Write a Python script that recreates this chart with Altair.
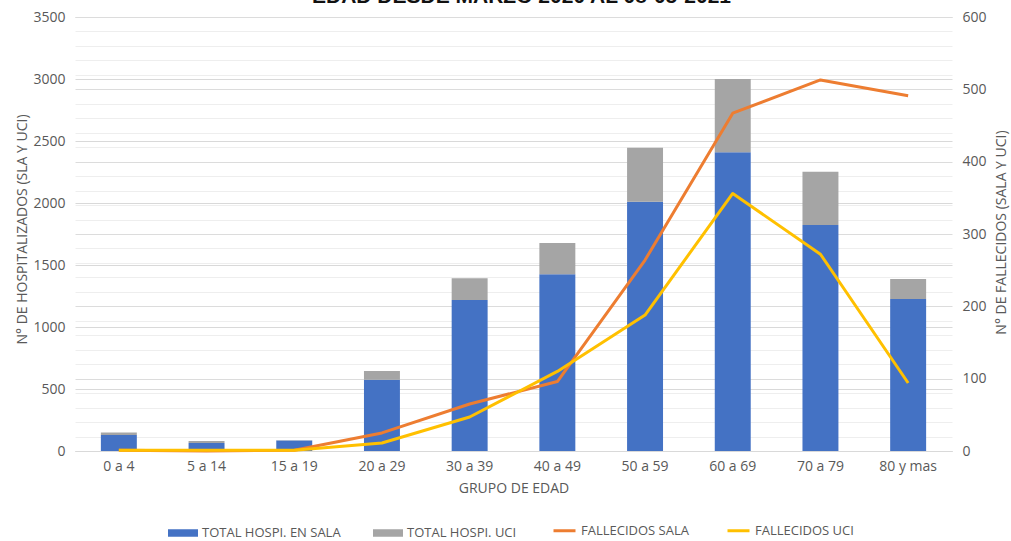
import altair as alt
import pandas as pd

grupos = ["0 a 4", "5 a 14", "15 a 19", "20 a 29", "30 a 39", "40 a 49",
          "50 a 59", "60 a 69", "70 a 79", "80 y mas"]
hosp_sala = [130, 65, 84, 575, 1218, 1425, 2010, 2410, 1823, 1226]
hosp_uci = [20, 16, 3, 70, 175, 252, 436, 590, 430, 161]
fall_sala = [1, 0, 1, 25, 65, 96, 264, 467, 513, 491]
fall_uci = [1, 1, 1, 11, 47, 110, 188, 356, 272, 94]

bar_series = ["TOTAL HOSPI. EN SALA", "TOTAL HOSPI. UCI"]
bar_colors = ["#4472C4", "#A5A5A5"]
line_series = ["FALLECIDOS SALA", "FALLECIDOS UCI"]
line_colors = ["#ED7D31", "#FFC000"]

bars_rows = []
for i, g in enumerate(grupos):
    bars_rows.append({"grupo": g, "serie": bar_series[0], "valor": hosp_sala[i], "orden": 0})
    bars_rows.append({"grupo": g, "serie": bar_series[1], "valor": hosp_uci[i], "orden": 1})
bars_df = pd.DataFrame(bars_rows)

line_rows = []
for i, g in enumerate(grupos):
    line_rows.append({"grupo": g, "serie2": line_series[0], "valor2": fall_sala[i]})
    line_rows.append({"grupo": g, "serie2": line_series[1], "valor2": fall_uci[i]})
lines_df = pd.DataFrame(line_rows)

FONT = "Open Sans"
GREY = "#595959"

x_enc = alt.X(
    "grupo:N", sort=grupos,
    scale=alt.Scale(paddingInner=0.59, paddingOuter=0.295),
    axis=alt.Axis(title="GRUPO DE EDAD", labelAngle=0, ticks=False,
                  domainColor="#d9d9d9", labelPadding=8, titlePadding=8,
                  grid=False, labelFontSize=14, titleFontSize=14),
)

bars = alt.Chart(bars_df).mark_bar().encode(
    x=x_enc,
    y=alt.Y("valor:Q", stack="zero",
            scale=alt.Scale(domain=[0, 3500], nice=False),
            axis=alt.Axis(values=list(range(0, 3501, 500)), format="d",
                          title="N° DE HOSPITALIZADOS (SLA Y UCI)",
                          grid=True, gridColor="#d9d9d9", ticks=False, domain=False,
                          labelPadding=10, labelFontSize=14, titleFontSize=14,
                          titleAngle=270, titleX=-53, titleY=212,
                          titleAlign="center", titleBaseline="middle")),
    color=alt.Color("serie:N",
                    scale=alt.Scale(domain=bar_series, range=bar_colors),
                    legend=alt.Legend(orient="none", legendX=93, legendY=501,
                                      direction="horizontal", title=None,
                                      symbolType="M-1,-0.25H1V0.25H-1Z",
                                      symbolSize=900, symbolStrokeWidth=0,
                                      labelFontSize=13, columnPadding=32,
                                      labelOffset=4)),
    order=alt.Order("orden:Q"),
)

grid_cond = {"condition": {"test": "datum.value % 100 === 0", "value": "#dcdcdc"},
             "value": "#eeeeee"}

lines = alt.Chart(lines_df).mark_line(strokeWidth=3, strokeJoin="round").encode(
    x=alt.X("grupo:N", sort=grupos),
    y=alt.Y("valor2:Q",
            scale=alt.Scale(domain=[0, 600], nice=False),
            axis=alt.Axis(orient="right", values=list(range(0, 601, 20)),
                          labelExpr="datum.value % 100 === 0 ? datum.label : ''",
                          title="N° DE FALLECIDOS (SALA Y UCI)",
                          grid=True, gridColor=grid_cond, ticks=False, domain=False,
                          labelOverlap=False,
                          labelPadding=10, labelFontSize=14, titleFontSize=14,
                          titleAngle=270, titleX=49, titleY=215,
                          titleAlign="center", titleBaseline="middle")),
    color=alt.Color("serie2:N",
                    scale=alt.Scale(domain=line_series, range=line_colors),
                    legend=alt.Legend(orient="none", legendX=477, legendY=501,
                                      direction="horizontal", title=None,
                                      symbolType="stroke", symbolSize=484,
                                      symbolStrokeWidth=3,
                                      labelFontSize=13, columnPadding=32,
                                      labelOffset=4)),
)

chart = alt.layer(bars, lines).resolve_scale(
    y="independent", color="independent"
).properties(
    width=877, height=434,
    title=alt.TitleParams("EDAD DESDE MARZO 2020 AL 08-05-2021", fontSize=21,
                          fontWeight="bold", font="Liberation Sans",
                          color="#111111", anchor="middle", frame="group",
                          baseline="alphabetic", offset=-14, dx=8),
    autosize=alt.AutoSizeParams(type="none"),
    padding={"left": 75, "top": 17, "right": 59, "bottom": 90},
).configure_view(stroke=None).configure_axis(
    labelFont=FONT, titleFont=FONT, labelColor=GREY, titleColor=GREY,
    titleFontWeight="normal",
).configure_legend(
    labelFont=FONT, labelColor=GREY,
)

chart.save("out.html", embed_options={"renderer": "svg", "actions": False})
